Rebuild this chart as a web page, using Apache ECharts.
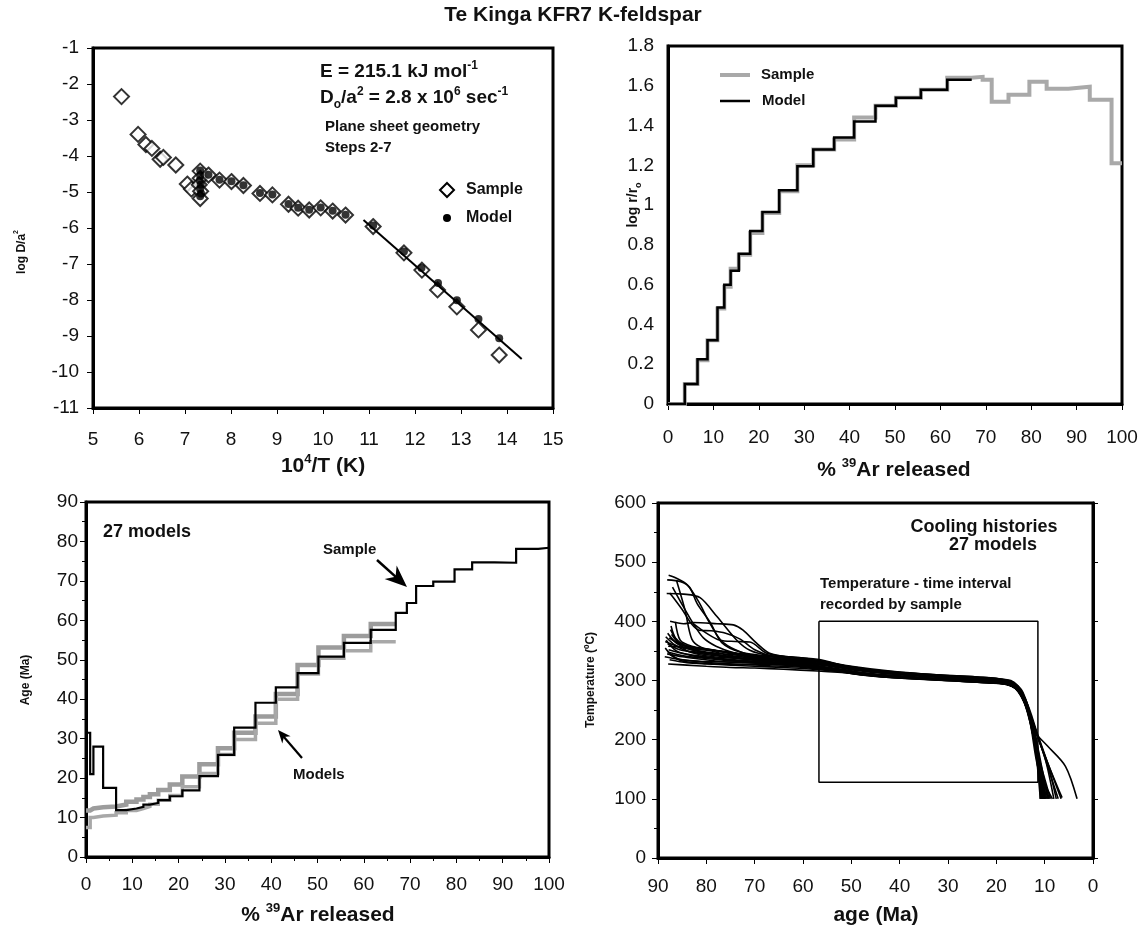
<!DOCTYPE html>
<html>
<head>
<meta charset="utf-8">
<script src="https://cdn.jsdelivr.net/npm/echarts@6/dist/echarts.min.js"></script>
<style>
  html, body { margin: 0; padding: 0; background: #fff; }
  #chart { width: 1147px; height: 931px; }
</style>
</head>
<body>
<div id="chart"></div>
<script>
const FONT = "'Liberation Sans', Arial, Helvetica, sans-serif";

// ---------- Arrhenius plot: 10^4/T (K) vs log D/a^2 ----------
const arrheniusSample = [
  [5.62,-2.35],[5.98,-3.40],[6.15,-3.68],[6.28,-3.79],[6.46,-4.09],[6.53,-4.04],[6.80,-4.25],
  [7.05,-4.78],[7.14,-4.92],[7.33,-4.42],[7.33,-4.62],[7.31,-4.80],[7.34,-4.98],[7.33,-5.18],
  [7.51,-4.53],[7.75,-4.67],[8.01,-4.71],[8.27,-4.82],[8.63,-5.04],[8.90,-5.08],
  [9.25,-5.34],[9.46,-5.45],[9.70,-5.50],[9.95,-5.44],[10.21,-5.53],[10.49,-5.64],
  [11.09,-5.96],[11.76,-6.69],[12.15,-7.17],[12.49,-7.72],[12.91,-8.19],[13.38,-8.83],[13.83,-9.53]
];
const arrheniusModel = [
  [7.33,-4.40],[7.33,-4.55],[7.32,-4.68],[7.34,-4.80],[7.33,-4.92],[7.35,-5.04],[7.33,-5.12],
  [7.51,-4.52],[7.75,-4.66],[8.01,-4.70],[8.27,-4.81],[8.63,-5.03],[8.90,-5.07],
  [9.25,-5.33],[9.46,-5.44],[9.70,-5.49],[9.95,-5.43],[10.21,-5.52],[10.49,-5.63],
  [11.09,-5.93],[11.76,-6.65],[12.14,-7.11],[12.50,-7.53],[12.91,-8.01],[13.38,-8.53],[13.83,-9.06]
];
// Arrhenius parameters of the fitted line (steps 2-7)
const activationEnergy = 215.1;   // kJ/mol
const d0OverA2 = 2.8e6;           // 1/s
const fitRange = [10.88, 14.32];  // 10^4/T span of the line
const gasConstant = 8.314462;

// ---------- Step heating: cumulative % 39Ar released at step boundaries ----------
const releaseSteps = [0,0.9,1.6,3.7,6.5,8.7,10.9,12.4,13.8,15.6,18.1,20.8,24.5,28.5,32.0,36.6,41.0,
  45.7,50.2,55.7,61.5,66.9,69.3,71.3,75.0,79.6,83.4,88.2,92.9,97.7,100];

// log r/ro per step
const logRSample = [0,0,0,0.10,0.22,0.32,0.48,0.59,0.68,0.75,0.86,0.96,1.07,1.20,1.28,1.33,1.44,1.50,
  1.54,1.58,1.64,1.645,1.63,1.52,1.555,1.62,1.585,1.595,1.53,1.21];
const logRModel = [0,0,0,0.10,0.225,0.32,0.485,0.60,0.67,0.755,0.87,0.965,1.075,1.195,1.28,1.34,1.42,
  1.50,1.54,1.58,1.63];

// Apparent age spectrum (Ma) per step
const ageSample = [31.5,21.0,28.0,17.5,11.9,12.3,12.7,13.3,13.7,14.4,15.4,16.9,20.5,25.9,32.8,39.1,43.0,
  46.6,50.8,54.3,57.6,61.9,64.4,68.7,69.8,72.9,74.7,74.6,78.1,78.4];
const ageModelsHigh = [11.8,12.3,12.6,12.8,13.3,14.0,14.6,15.2,15.9,17.0,18.4,20.4,23.5,27.6,31.5,35.6,
  41.3,48.7,53.1,56.0,59.1];
const ageModelsLow = [7.5,10.0,10.4,10.6,11.2,11.8,12.3,12.8,13.4,14.4,15.6,17.8,21.2,26.0,29.8,33.9,
  40.0,46.4,50.4,52.3,54.6];

// ---------- Cooling histories: [age (Ma), temperature (°C)] ----------
const coolingHistories = [
  [[87.8,478],[86.5,474],[84,462],[81.5,432],[79.5,400],[77,368],[74,352],[70,342],[64,340],[57,336],[50,322],[42,312],[32,308],[22,303],[17.5,298],[15,280],[12.5,230],[11,160],[10.6,100]],
  [[88.1,470],[85.3,467],[83.5,458],[81.9,430],[79.2,398],[76.8,364],[73,348],[68,342],[60,338],[52,326],[44,316],[34,310],[24,305],[17,300],[14.5,278],[12.2,214],[10.2,100]],
  [[88.2,447],[84.7,446],[81.3,440],[77.8,408],[73.7,368],[71,351],[67,342],[60,337],[55,330],[48,320],[40,313],[30,307],[20,302],[16.5,295],[13.8,265],[11.5,190],[9.4,100]],
  [[87.0,458],[84.7,424],[82.7,396],[80.6,372],[78,358],[74,346],[68,336],[61,328],[54,318],[46,308],[38,304],[28,300],[19,296],[15.8,286],[13,240],[11,150],[10.8,100]],
  [[86.2,470],[84.4,419],[83,370],[81,356],[77,350],[72,344],[66,336],[58,326],[50,312],[42,305],[32,301],[22,296],[17,292],[14.2,262],[12,200],[10.5,100]],
  [[87.5,400],[84.7,396],[82.7,398],[77.8,396],[74.4,394],[72.4,385],[69.6,363],[66.9,346],[62,338],[56,332],[49,321],[40,314],[31,309],[21,304],[16.8,298],[14.5,280],[12.5,225],[10.4,120],[9.8,100]],
  [[86.4,399],[85.4,368],[83,358],[79,352],[74,344],[68,336],[62,330],[55,322],[47,311],[38,305],[28,301],[20,297],[16,288],[13.6,255],[11.2,170],[8.8,100]],
  [[82.7,396],[80,380],[77.2,368],[74,366],[71,365],[67.5,346],[63,340],[57,334],[50,324],[42,316],[33,310],[24,306],[18,300],[15,282],[12.8,228],[10.9,140],[10.1,100]],
  [[88.0,380],[86,362],[83,352],[78,344],[72,336],[66,331],[59,326],[53,320],[45,310],[37,304],[27,300],[19,295],[15.5,283],[13.2,240],[11.3,160],[9.0,100]],
  [[88.4,374],[86.5,360],[84,350],[80,344],[74,338],[68,333],[60,326],[52,318],[44,309],[35,303],[25,299],[18,295],[15.2,280],[12.8,225],[10.8,130],[10.5,100]],
  [[88.5,366],[86,358],[83,354],[79,350],[75,342],[70,338],[63,334],[56,328],[48,318],[40,311],[30,306],[21,301],[17,295],[14,268],[11.5,210],[9.4,160],[7.6,100]],
  [[87.3,392],[86.4,372],[84.5,360],[81,354],[76,348],[70,341],[64,336],[57,331],[50,320],[43,313],[34,308],[23,303],[17.2,298],[14.8,278],[12.6,220],[10.7,110],[10.4,100]],
  [[87.8,352],[85,346],[82,342],[78,338],[73,334],[68,331],[61,327],[54,319],[47,311],[38,305],[29,301],[20,296],[16.2,289],[13.5,250],[11.6,180],[9.6,100]],
  [[88.1,345],[85,340],[81,336],[77,332],[72,330],[66,328],[59,324],[52,316],[45,309],[36,304],[27,300],[19,296],[15.8,285],[13.4,248],[11.1,168],[10.0,100]],
  [[88.6,340],[86,336],[83,333],[79,330],[74,328],[68,327],[62,325],[55,321],[48,313],[40,308],[31,303],[22,299],[17,293],[14.5,270],[12.4,214],[10.9,100]],
  [[87.6,335],[84,330],[80,328],[75,326],[70,324],[64,322],[58,319],[51,314],[44,307],[35,302],[26,298],[18,294],[15.4,282],[13,236],[11.4,174],[9.2,100]],
  [[88.0,362],[85.5,352],[82,348],[78,344],[73,338],[67,335],[61,331],[54,325],[47,316],[39,310],[29,305],[20,300],[16.5,292],[13.9,262],[11.6,210],[9.2,150],[7.2,100]],
  [[87.9,358],[85,356],[82,350],[77,342],[72,336],[66,333],[59,329],[53,322],[46,314],[37,308],[28,303],[19,298],[15.9,288],[13.3,250],[11.2,200],[8.6,145],[6.4,102]],
  [[87.2,378],[85.8,364],[83.5,355],[80,348],[75,344],[69,339],[62,334],[56,327],[49,318],[41,311],[32,306],[23,301],[17.5,296],[15.3,283],[13.1,232],[11.3,150],[8.4,100]],
  [[88.3,368],[86.2,350],[83,342],[79,338],[74,334],[68,331],[61,327],[55,320],[48,312],[39,306],[30,302],[21,297],[16.8,291],[14.3,266],[12.1,214],[9.5,190],[5.7,155],[3.3,100]],
  [[87.7,372],[85.6,362],[83.2,356],[79.5,352],[75,347],[70,342],[64,338],[57,332],[50,322],[42,314],[32,308],[22,303],[17.2,297],[14.6,274],[12.7,218],[10.3,120],[10.0,100]],
  [[87.4,386],[86,366],[84,350],[81,343],[77,339],[71,337],[65,335],[58,333],[51,321],[43,313],[34,308],[24,304],[17.8,299],[15.1,283],[13.2,238],[11.0,130],[10.9,100]],
  [[88.0,348],[85,342],[81,338],[76,334],[71,331],[65,327],[58,322],[51,315],[43,308],[34,303],[25,299],[18.5,295],[15.6,284],[13.5,252],[11.5,178],[9.9,100]],
  [[87.9,328],[84,326],[80,324],[75,322],[70,321],[64,319],[57,316],[50,312],[42,305],[33,301],[24,297],[17.6,293],[15.0,278],[12.9,232],[11.4,160],[10.6,100]],
  [[88.5,355],[86.8,340],[84,334],[80,332],[75,331],[69,330],[62,326],[55,318],[48,310],[39,305],[29,301],[20,297],[16.4,290],[14,262],[11.7,212],[9.8,165],[8.1,100]],
  [[87.5,344],[85,333],[82,330],[78,328],[73,327],[67,325],[60,322],[53,316],[46,309],[37,304],[27,300],[19,296],[15.7,285],[13.7,255],[11.5,205],[8.9,150],[6.6,100]],
  [[87.6,448],[86.8,440],[85,420],[83,395],[81.5,385],[79,384],[76,380],[73,370],[70,352],[66,340],[60,333],[53,324],[45,315],[36,309],[26,304],[18,299],[15.3,284],[13.1,240],[11.2,150],[10.3,100]]
];
// Temperature-time window recorded by the sample
const recordedAges = [56.7, 11.4];
const recordedTemps = [128, 400];

// ---------- helpers ----------
function stepPoints(bounds, values) {
  const pts = [];
  values.forEach((v, i) => { pts.push([bounds[i], v]); pts.push([bounds[i + 1], v]); });
  return pts;
}
const arrheniusSlope = activationEnergy * 1000 / (Math.LN10 * gasConstant) / 1e4;
const fitLine = fitRange.map(x => [x, Math.log10(d0OverA2) - arrheniusSlope * x]);
const boxPath = [
  [recordedAges[0], recordedTemps[1]], [recordedAges[1], recordedTemps[1]],
  [recordedAges[1], recordedTemps[0]], [recordedAges[0], recordedTemps[0]],
  [recordedAges[0], recordedTemps[1]]
];

function txt(x, y, text, size, opts) {
  opts = opts || {};
  const align = opts.align || 'left';
  const w = opts.weight || 'bold';
  const small = Math.round(size * 0.62);
  return {
    type: 'text', x: x, y: y, rotation: opts.rotation || 0, z: 100,
    style: {
      text: text, fill: '#111',
      font: w + ' ' + size + 'px ' + FONT,
      align: align, textAlign: align,
      verticalAlign: 'middle', textVerticalAlign: 'middle',
      rich: {
        n: { fontSize: size, fontWeight: w, fontFamily: FONT, lineHeight: size + 6, fill: '#111' },
        sup: { fontSize: small, fontWeight: w, fontFamily: FONT, verticalAlign: 'top', lineHeight: small, fill: '#111' },
        sub: { fontSize: small, fontWeight: w, fontFamily: FONT, verticalAlign: 'bottom', lineHeight: small, fill: '#111' }
      }
    }
  };
}
function arrow(x1, y1, x2, y2, len, half, width) {
  const a = Math.atan2(y2 - y1, x2 - x1);
  const c = Math.cos(a), s = Math.sin(a);
  const bx = x2 - len * c, by = y2 - len * s;
  const px = -s * half, py = c * half;
  return [
    { type: 'line', z: 100, shape: { x1: x1, y1: y1, x2: x2 - len * 0.6 * c, y2: y2 - len * 0.6 * s }, style: { stroke: '#000', lineWidth: width } },
    { type: 'polygon', z: 100, shape: { points: [[x2, y2], [bx + px, by + py], [x2 - len * 0.7 * c, y2 - len * 0.7 * s], [bx - px, by - py]] }, style: { fill: '#000' } }
  ];
}

// ---------- axes ----------
const tickLabel = { fontSize: 19, color: '#111', fontFamily: FONT };
function valAxis(gridIndex, min, max, interval, extra) {
  return Object.assign({
    type: 'value', gridIndex: gridIndex, min: min, max: max, interval: interval,
    axisLine: { show: true, onZero: false, lineStyle: { color: '#000', width: 3 } },
    axisTick: { show: true, inside: false, length: 6, lineStyle: { color: '#000', width: 1 } },
    splitLine: { show: false },
    axisLabel: Object.assign({ margin: 12 }, tickLabel)
  }, extra || {});
}
const gridStyle = { show: true, borderColor: '#000', borderWidth: 3, backgroundColor: '#fff', containLabel: false };

const chart = echarts.init(document.getElementById('chart'), null, { renderer: 'canvas' });

const series = [
  // Arrhenius
  { type: 'scatter', xAxisIndex: 0, yAxisIndex: 0, data: arrheniusSample, symbol: 'diamond', symbolSize: 15,
    itemStyle: { color: '#fff', borderColor: '#000', borderWidth: 2 }, z: 2 },
  { type: 'scatter', xAxisIndex: 0, yAxisIndex: 0, data: arrheniusModel, symbol: 'circle', symbolSize: 8,
    itemStyle: { color: '#000' }, z: 3 },
  { type: 'line', xAxisIndex: 0, yAxisIndex: 0, data: fitLine, symbol: 'none',
    lineStyle: { color: '#000', width: 2 }, z: 4 },
  // log r/ro spectrum
  { type: 'line', xAxisIndex: 1, yAxisIndex: 1, data: stepPoints(releaseSteps, logRSample), symbol: 'none',
    lineStyle: { color: '#a9a9a9', width: 4, join: 'miter' }, z: 2 },
  { type: 'line', xAxisIndex: 1, yAxisIndex: 1, data: stepPoints(releaseSteps, logRModel), symbol: 'none',
    lineStyle: { color: '#000', width: 2.5, join: 'miter' }, z: 3 },
  // age spectra
  { type: 'line', xAxisIndex: 2, yAxisIndex: 2, data: stepPoints(releaseSteps, ageModelsHigh), symbol: 'none',
    lineStyle: { color: '#9c9c9c', width: 4.5, join: 'miter' }, z: 2 },
  { type: 'line', xAxisIndex: 2, yAxisIndex: 2, data: stepPoints(releaseSteps, ageModelsLow), symbol: 'none',
    lineStyle: { color: '#a8a8a8', width: 3.5, join: 'miter' }, z: 2 },
  { type: 'line', xAxisIndex: 2, yAxisIndex: 2, data: stepPoints(releaseSteps, ageSample), symbol: 'none',
    lineStyle: { color: '#000', width: 2.2, join: 'miter' }, z: 3 },
  // recorded window
  { type: 'line', xAxisIndex: 3, yAxisIndex: 3, data: boxPath, symbol: 'none',
    lineStyle: { color: '#000', width: 1.5 }, z: 2 }
];
coolingHistories.forEach(path => {
  series.push({ type: 'line', xAxisIndex: 3, yAxisIndex: 3, data: path, symbol: 'none', smooth: 0.3,
    lineStyle: { color: '#000', width: 1.6 }, z: 3 });
});

const graphic = [
  txt(573, 15, 'Te Kinga KFR7 K-feldspar', 21, { align: 'center' }),
  // Arrhenius annotations
  txt(320, 72, '{n|E = 215.1 kJ mol}{sup|-1}', 19),
  txt(320, 98, '{n|D}{sub|o}{n|/a}{sup|2}{n| = 2.8 x 10}{sup|6}{n| sec}{sup|-1}', 19),
  txt(325, 127, 'Plane sheet geometry', 15),
  txt(325, 148, 'Steps 2-7', 15),
  { type: 'polygon', z: 100, shape: { points: [[447, 183], [454, 190], [447, 197], [440, 190]] },
    style: { fill: '#fff', stroke: '#000', lineWidth: 2 } },
  txt(466, 190, 'Sample', 16),
  { type: 'circle', z: 100, shape: { cx: 447, cy: 218, r: 4 }, style: { fill: '#000' } },
  txt(466, 218, 'Model', 16),
  txt(22, 252, '{n|log D/a}{sup|2}', 12, { align: 'center', rotation: Math.PI / 2 }),
  txt(323, 466, '{n|10}{sup|4}{n|/T (K)}', 21, { align: 'center' }),
  // log r/ro legend and labels
  { type: 'line', z: 100, shape: { x1: 720, y1: 75, x2: 750, y2: 75 }, style: { stroke: '#a9a9a9', lineWidth: 4 } },
  txt(761, 75, 'Sample', 15),
  { type: 'line', z: 100, shape: { x1: 720, y1: 101, x2: 750, y2: 101 }, style: { stroke: '#000', lineWidth: 2.5 } },
  txt(762, 101, 'Model', 15),
  txt(633, 205, '{n|log r/r}{sub|o}', 14, { align: 'center', rotation: Math.PI / 2 }),
  txt(894, 470, '{n|% }{sup|39}{n|Ar released}', 21, { align: 'center' }),
  // age spectrum labels
  txt(103, 532, '27 models', 18),
  txt(323, 550, 'Sample', 15),
  txt(293, 775, 'Models', 15),
  txt(26, 680, 'Age (Ma)', 12, { align: 'center', rotation: Math.PI / 2 }),
  txt(318, 915, '{n|% }{sup|39}{n|Ar released}', 21, { align: 'center' }),
  // cooling history labels
  txt(984, 527, 'Cooling histories', 18, { align: 'center' }),
  txt(993, 545, '27 models', 18, { align: 'center' }),
  txt(820, 584, 'Temperature - time interval', 15),
  txt(820, 605, 'recorded by sample', 15),
  txt(591, 680, 'Temperature (ºC)', 12, { align: 'center', rotation: Math.PI / 2 }),
  txt(876, 915, 'age (Ma)', 21, { align: 'center' })
].concat(arrow(377, 560, 407, 587, 22, 9, 2.5), arrow(302, 758, 278, 730, 13, 5.5, 2.2));

chart.setOption({
  animation: false,
  backgroundColor: '#fff',
  grid: [
    Object.assign({ left: 93, top: 48, width: 460, height: 360 }, gridStyle),
    Object.assign({ left: 668, top: 46, width: 454, height: 358 }, gridStyle),
    Object.assign({ left: 86, top: 502, width: 463, height: 355 }, gridStyle),
    Object.assign({ left: 658, top: 503, width: 435, height: 355 }, gridStyle)
  ],
  xAxis: [
    valAxis(0, 5, 15, 1, { axisLabel: Object.assign({ margin: 22 }, tickLabel) }),
    valAxis(1, 0, 100, 10, { axisLabel: Object.assign({ margin: 24 }, tickLabel) }),
    valAxis(2, 0, 100, 10, { minorTick: { show: true, splitNumber: 2, length: 4, lineStyle: { color: '#000' } },
      axisLabel: Object.assign({ margin: 18 }, tickLabel) }),
    valAxis(3, 0, 90, 10, { inverse: true, axisLabel: Object.assign({ margin: 19 }, tickLabel) })
  ],
  yAxis: [
    valAxis(0, -11, -1, 1, { axisLabel: Object.assign({ margin: 14 }, tickLabel) }),
    valAxis(1, 0, 1.8, 0.2, { axisTick: { show: false }, axisLabel: Object.assign({ margin: 14 }, tickLabel) }),
    valAxis(2, 0, 90, 10, { minorTick: { show: true, splitNumber: 2, length: 4, lineStyle: { color: '#000' } },
      axisLabel: Object.assign({ margin: 8 }, tickLabel) }),
    valAxis(3, 0, 600, 100, { minorTick: { show: true, splitNumber: 2, length: 4, lineStyle: { color: '#000' } },
      axisLabel: Object.assign({ margin: 12 }, tickLabel) }),
    valAxis(3, 0, 600, 100, { position: 'right', axisLabel: { show: false }, axisTick: { show: true, length: 5, lineStyle: { color: '#000' } } })
  ],
  series: series,
  graphic: graphic
});
</script>
</body>
</html>
